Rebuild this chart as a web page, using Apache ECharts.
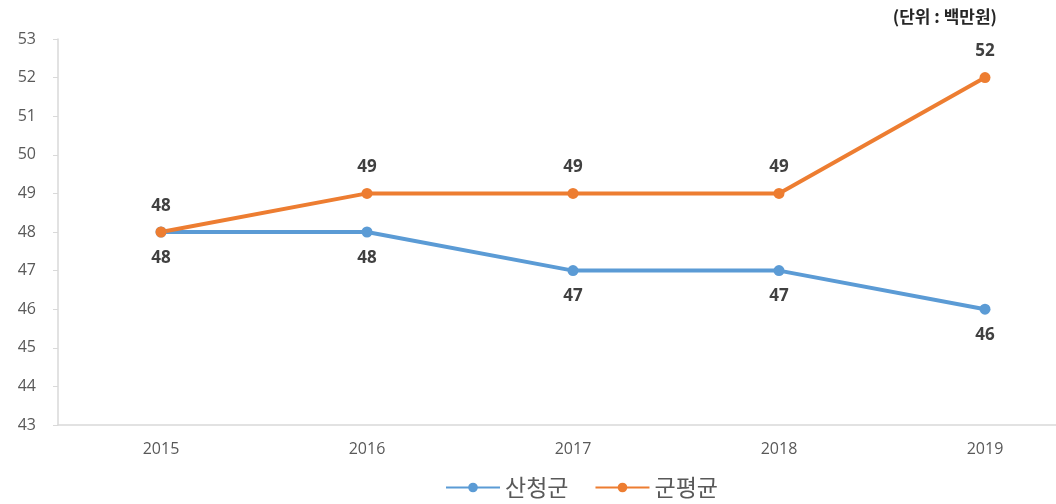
<!DOCTYPE html>
<html>
<head>
<meta charset="utf-8">
<script src="https://cdn.jsdelivr.net/npm/echarts@6/dist/echarts.min.js"></script>
<style>
  html, body { margin: 0; padding: 0; background: #fff; }
  #chart { width: 1056px; height: 504px; }
</style>
</head>
<body>
<div id="chart"></div>
<script>
// data
const years = ["2015", "2016", "2017", "2018", "2019"];
const sancheong = [48, 48, 47, 47, 46];
const gunAverage = [48, 49, 49, 49, 52];
const seriesNames = ["산청군", "군평균"];
const unitText = "(단위 : 백만원)";

const FONT = "'Open Sans', 'Noto Sans CJK KR', sans-serif";
const KR_FONT = "'Noto Sans CJK KR', sans-serif";
const BLUE = "#5B9BD5";
const ORANGE = "#ED7D31";

const chart = echarts.init(document.getElementById("chart"));

chart.setOption({
  animation: false,
  textStyle: { fontFamily: FONT },
  title: {
    text: unitText,
    right: 54,
    top: 3,
    textStyle: { fontSize: 17, fontWeight: "bold", color: "#262626", fontFamily: KR_FONT },
  },
  legend: {
    bottom: 0,
    left: 440,
    itemWidth: 54,
    itemHeight: 12,
    itemGap: 26,
    textStyle: { fontSize: 23, color: "#595959", fontFamily: KR_FONT },
    data: seriesNames,
  },
  grid: { left: 58, top: 39, width: 1030, height: 386, outerBoundsMode: "none" },
  xAxis: {
    type: "category",
    data: years,
    boundaryGap: true,
    axisLine: { lineStyle: { color: "#d9d9d9", width: 1.5 } },
    axisTick: { show: false },
    axisLabel: { color: "#595959", fontSize: 16, margin: 16 },
  },
  yAxis: {
    type: "value",
    min: 43,
    max: 53,
    interval: 1,
    splitLine: { show: false },
    axisLine: { show: true, lineStyle: { color: "#d9d9d9", width: 1.5 } },
    axisTick: { show: true, length: 5, lineStyle: { color: "#d9d9d9" } },
    axisLabel: { color: "#595959", fontSize: 16, margin: 22 },
  },
  series: [
    {
      name: seriesNames[0],
      type: "line",
      data: sancheong,
      color: BLUE,
      symbol: "circle",
      symbolSize: 11,
      lineStyle: { width: 4 },
      label: {
        show: true,
        position: "bottom",
        distance: 12,
        fontSize: 17,
        fontWeight: "bold",
        color: "#404040",
      },
    },
    {
      name: seriesNames[1],
      type: "line",
      data: gunAverage,
      color: ORANGE,
      symbol: "circle",
      symbolSize: 11,
      lineStyle: { width: 4 },
      label: {
        show: true,
        position: "top",
        distance: 12,
        fontSize: 17,
        fontWeight: "bold",
        color: "#404040",
      },
    },
  ],
});
</script>
</body>
</html>
